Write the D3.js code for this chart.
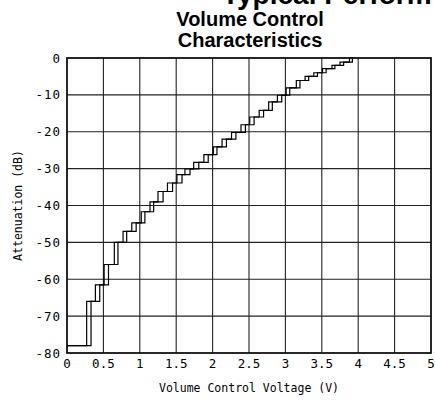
<!DOCTYPE html>
<html><head><meta charset="utf-8">
<script src="https://cdn.jsdelivr.net/npm/d3@7"></script>
<style>body{margin:0;background:#fff}svg{display:block}</style>
</head><body>
<script>
// Data
const xTicks = [0, 0.5, 1, 1.5, 2, 2.5, 3, 3.5, 4, 4.5, 5];
const xTickLabels = ["0","0.5","1","1.5","2","2.5","3","3.5","4","4.5","5"];
const yTicks = [0, -10, -20, -30, -40, -50, -60, -70, -80];
const yTickLabels = ["0","-10","-20","-30","-40","-50","-60","-70","-80"];
// attenuation levels (dB) of each step tread
const levels = [-78, -66, -61.5, -56, -50, -47, -44.7, -41.7, -39, -36.2, -33.9, -31.6, -30.1, -28.3, -26.2, -24.1, -22, -20.2, -18.1, -16, -14.2, -11.9, -10.1, -8.1, -6.1, -5, -4, -2.9, -2, -1.1, 0];
// voltages where each step rises, for the two hysteresis curves
const risersA = [0.27, 0.39, 0.51, 0.65, 0.77, 0.89, 1.02, 1.14, 1.25, 1.38, 1.51, 1.62, 1.74, 1.88, 2.01, 2.13, 2.26, 2.39, 2.51, 2.64, 2.77, 2.89, 3.01, 3.15, 3.27, 3.39, 3.51, 3.64, 3.75, 3.88];
const risersB = [0.33, 0.45, 0.57, 0.70, 0.82, 0.95, 1.07, 1.19, 1.32, 1.45, 1.58, 1.69, 1.81, 1.94, 2.06, 2.19, 2.32, 2.45, 2.57, 2.70, 2.82, 2.95, 3.06, 3.20, 3.32, 3.44, 3.56, 3.68, 3.80, 3.92];
const startV = 0, endV = 3.93;

const W = 435, H = 400;
const svg = d3.select("body").append("svg").attr("width", W).attr("height", H);

const x = d3.scaleLinear().domain([0, 5]).range([67, 431]);
const y = d3.scaleLinear().domain([-80, 0]).range([353, 58]);

// titles (the top heading is clipped by the page edge, as in the reference)
svg.append("text").attr("x", 222).attr("y", 4).attr("font-family", "Liberation Sans, Arial, sans-serif")
  .attr("font-weight", "bold").attr("font-size", 28).attr("fill", "#000").text("Typical Perform");
svg.append("text").attr("x", 250).attr("y", 26).attr("text-anchor", "middle").attr("font-family", "Liberation Sans, Arial, sans-serif")
  .attr("font-weight", "bold").attr("font-size", 20).attr("fill", "#000").text("Volume Control");
svg.append("text").attr("x", 250).attr("y", 47).attr("text-anchor", "middle").attr("font-family", "Liberation Sans, Arial, sans-serif")
  .attr("font-weight", "bold").attr("font-size", 20).attr("fill", "#000").text("Characteristics");

// grid
const g = svg.append("g");
g.selectAll("line.v").data(xTicks.slice(1, -1)).join("line")
  .attr("x1", d => x(d)).attr("x2", d => x(d)).attr("y1", y(0)).attr("y2", y(-80))
  .attr("stroke", "#222").attr("stroke-width", 1.1);
g.selectAll("line.h").data(yTicks.slice(1, -1)).join("line")
  .attr("x1", x(0)).attr("x2", x(5)).attr("y1", d => y(d)).attr("y2", d => y(d))
  .attr("stroke", "#222").attr("stroke-width", 1.1);
g.append("rect").attr("x", x(0)).attr("y", y(0)).attr("width", x(5) - x(0)).attr("height", y(-80) - y(0))
  .attr("fill", "none").attr("stroke", "#111").attr("stroke-width", 1.8);

// tick labels
const tickFont = "DejaVu Sans Mono, monospace";
svg.selectAll("text.xt").data(xTicks).join("text")
  .attr("x", d => x(d)).attr("y", 368).attr("text-anchor", "middle")
  .attr("font-family", tickFont).attr("font-size", 12.5).attr("fill", "#000")
  .text((d, i) => xTickLabels[i]);
svg.selectAll("text.yt").data(yTicks).join("text")
  .attr("x", 61).attr("y", d => y(d) + 4.5).attr("text-anchor", "end")
  .attr("font-family", tickFont).attr("font-size", 12.5).attr("letter-spacing", 1).attr("fill", "#000")
  .text((d, i) => yTickLabels[i]);

// axis titles
svg.append("text").attr("x", 249).attr("y", 392).attr("text-anchor", "middle")
  .attr("font-family", tickFont).attr("font-size", 11.5).attr("fill", "#000").text("Volume Control Voltage (V)");
svg.append("text").attr("transform", `translate(22,${y(-40)}) rotate(-90)`).attr("text-anchor", "middle")
  .attr("font-family", tickFont).attr("font-size", 11.5).attr("fill", "#000").text("Attenuation (dB)");

// step curves
function stepPoints(risers) {
  const pts = [[startV, levels[0]]];
  risers.forEach((v, i) => { pts.push([v, levels[i]]); pts.push([v, levels[i + 1]]); });
  pts.push([endV, levels[levels.length - 1]]);
  return pts;
}
const line = d3.line().x(d => x(d[0])).y(d => y(d[1]));
[risersA, risersB].forEach(r => {
  svg.append("path").attr("d", line(stepPoints(r))).attr("fill", "none")
    .attr("stroke", "#000").attr("stroke-width", 1.2);
});
</script>
</body></html>
